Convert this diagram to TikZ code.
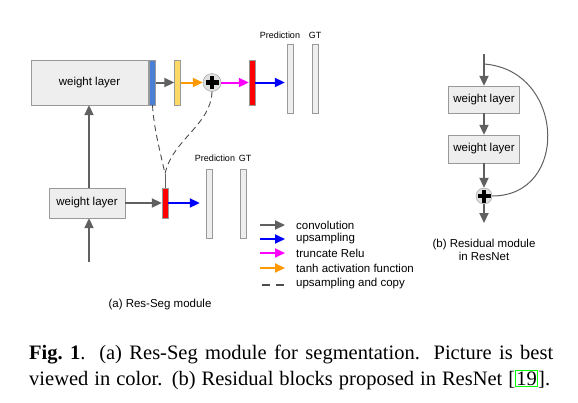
\documentclass[tikz,border=0pt]{standalone}
\usepackage{fontspec}
\setmainfont{Liberation Serif}
\newfontfamily\arialfont{Liberation Sans}
\usetikzlibrary{arrows.meta}
\definecolor{boxgray}{HTML}{EEEEEE}
\definecolor{edgegray}{HTML}{999999}
\definecolor{arrgray}{HTML}{606060}
\definecolor{barblue}{HTML}{4A7FD6}
\definecolor{baryellow}{HTML}{FFD966}
\definecolor{arrorange}{HTML}{FF9900}
\definecolor{arrmagenta}{HTML}{FF00FF}
\definecolor{linkgreen}{HTML}{00FF00}
\newcommand{\diafont}{\arialfont\fontsize{11.5}{13.5}\selectfont}

\begin{document}
\begin{tikzpicture}[x=1pt,y=-1pt,
  wbox/.style={draw=edgegray, fill=boxgray, inner sep=0pt, font=\diafont},
  bar/.style={draw=edgegray, minimum width=6pt, minimum height=45pt, inner sep=0pt},
  gtbar/.style={draw=edgegray, fill=boxgray, minimum width=6pt, minimum height=69pt, inner sep=0pt},
  lbl/.style={font=\arialfont\fontsize{9}{10}\selectfont, inner sep=0pt},
  txt/.style={font=\diafont, inner sep=0pt},
  arr/.style={line width=2pt, -{Triangle[length=10pt,width=9pt]}},
  copyline/.style={line width=0.9pt, draw=arrgray!80!black, dash pattern=on 6pt off 4pt},
  plusnode/.style={circle, draw=edgegray, fill=gray!25, minimum size=#1, inner sep=0pt,
    path picture={
      \draw[black, line width=4.5pt] ([xshift=-6.5pt]path picture bounding box.center) -- ([xshift=6.5pt]path picture bounding box.center);
      \draw[black, line width=4.5pt] ([yshift=-6.5pt]path picture bounding box.center) -- ([yshift=6.5pt]path picture bounding box.center);}}]
  \useasboundingbox (0,0) rectangle (578,402);

  % (a) top row
  \node[wbox, minimum width=117pt, minimum height=45pt] (wl1) at (89.5,82.5) {weight layer};
  \node[bar, fill=barblue] (barB) at (152.5,82.5) {};
  \node[bar, fill=baryellow] (barY) at (177.5,82.5) {};
  \node[plusnode=18pt] (plusA) at (212,82.5) {};
  \node[bar, fill=red] (barR) at (252,82.5) {};
  \node[gtbar] (pred1) at (290,78.5) {};
  \node[gtbar] (gt1) at (315,78.5) {};
  \node[lbl] (pl1) at (280,35) {Prediction};
  \node[lbl] (gl1) at (315,35) {GT};

  % (a) bottom row
  \node[wbox, minimum width=76pt, minimum height=30pt] (wl2) at (87,203) {weight layer};
  \node[bar, fill=red, minimum height=30pt] (barR2) at (165,203) {};
  \node[gtbar] (pred2) at (209,203.5) {};
  \node[gtbar] (gt2) at (243.5,203.5) {};
  \node[lbl] (pl2) at (215,158) {Prediction};
  \node[lbl] (gl2) at (245,158) {GT};
  \coordinate (in) at (89,262);
  \coordinate (m) at (165,174);

  \path[arr]
    (barB) edge[draw=arrgray] (barY)
    (barY) edge[draw=arrorange] (plusA)
    (plusA) edge[draw=arrmagenta] (barR)
    (barR) edge[draw=blue, shorten >=2pt] (pred1.west |- barR.east)
    (wl2) edge[draw=arrgray] (barR2)
    (barR2) edge[draw=blue, shorten >=6pt] (pred2.west |- barR2.east)
    (in) edge[draw=arrgray] (in |- wl2.south)
    (in |- wl2.north) edge[draw=arrgray] (in |- wl1.south);
  \draw[copyline] (barB.south) .. controls (154,130) and (160,150) .. (m);
  \draw[copyline] (plusA.south) .. controls (211,125) and (172,140) .. (m);
  \draw[arrgray, line width=0.9pt] (m) -- (barR2.north);

  % legend
  \foreach \yy/\cc/\tt [count=\i] in {225/arrgray/convolution, 239/blue/upsampling,
      253/arrmagenta/truncate Relu, 268/arrorange/tanh activation function} {
    \coordinate (la\i) at (260,\yy);
    \coordinate (lb\i) at (285,\yy);
    \draw[arr, draw=\cc] (la\i) -- (lb\i);
    \node[txt, anchor=west] (lt\i) at (296,\yy) {\tt};
  }
  \coordinate (la5) at (262,285);
  \coordinate (lb5) at (285,285);
  \draw[copyline, dash pattern=on 8pt off 6pt, line width=1.4pt] (la5) -- (lb5);
  \node[txt, anchor=west] (lt5) at (296,284) {upsampling and copy};
  \node[txt] (capa) at (160,305) {(a) Res-Seg module};

  % (b) residual module
  \coordinate (rtop) at (484,54);
  \node[wbox, minimum width=71pt, minimum height=27pt] (wl3) at (484,99.5) {weight layer};
  \node[wbox, minimum width=71pt, minimum height=28pt] (wl4) at (484,149) {weight layer};
  \node[plusnode=16pt] (plusB) at (484,196) {};
  \coordinate (rout) at (484,223);
  \path[arr, arrgray]
    (rtop) edge (wl3)
    (wl3) edge (wl4)
    (wl4) edge (plusB)
    (plusB) edge (rout);
  \draw[arrgray, line width=1pt] (484,64) .. controls (565,70) and (570,196) .. (plusB.east);
  \node[txt, align=center] (capb) at (484,250) {(b) Residual module\\in ResNet};

  % caption
  \node[anchor=base west, inner sep=0pt, font=\fontsize{20.5}{26}\selectfont] (cap1) at (29,359)
    {\makebox[524pt][s]{\textbf{Fig.~1}. (a) Res-Seg module for segmentation. Picture is best}};
  \node[anchor=base west, inner sep=0pt, font=\fontsize{20.5}{26}\selectfont] (cap2) at (29,385)
    {\makebox[521pt][s]{viewed in color. (b) Residual blocks proposed in ResNet [{\fboxsep=0.5pt\fboxrule=0.8pt\fcolorbox{linkgreen}{white}{19}}].}};
\end{tikzpicture}
\end{document}
